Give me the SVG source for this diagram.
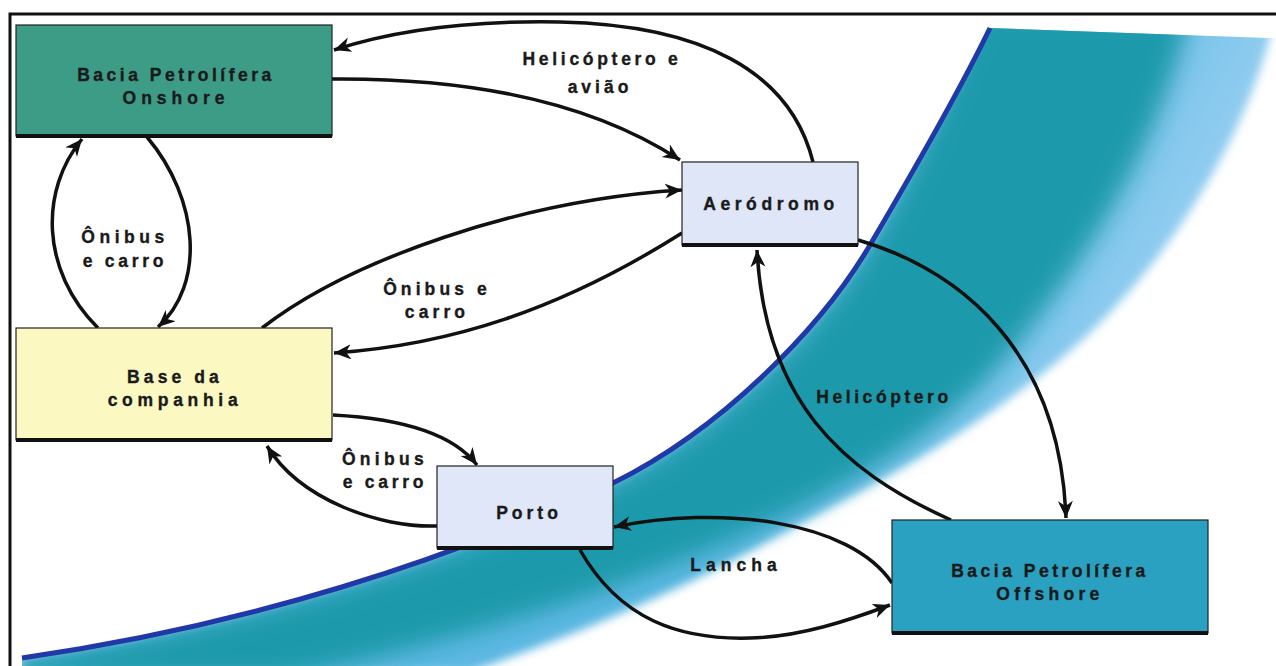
<svg xmlns="http://www.w3.org/2000/svg" width="1276" height="666" viewBox="0 0 1276 666">
<defs>
<clipPath id="seaClip">
<path d="M22,658 C250,625 450,560 613,483 C720,430 820,330 870,245 C920,160 960,90 990,28 L1268,38 L1280,38 L1280,680 L22,680 Z"/>
</clipPath>
<linearGradient id="lightGrad" gradientUnits="userSpaceOnUse" x1="900" y1="250" x2="1200" y2="420">
<stop offset="0" stop-color="#5db8e2"/>
<stop offset="1" stop-color="#a9d6f7"/>
</linearGradient>
<filter id="blurA" x="-10%" y="-10%" width="120%" height="120%">
<feGaussianBlur stdDeviation="5"/>
</filter>
<filter id="blurB" x="-10%" y="-10%" width="120%" height="120%">
<feGaussianBlur stdDeviation="12"/>
</filter>
<marker id="arr" markerUnits="userSpaceOnUse" markerWidth="20" markerHeight="16" refX="17" refY="7.5" orient="auto">
<path d="M0,0 L17,7.5 L0,15 L5,7.5 Z" fill="#111"/>
</marker>
</defs>
<style>
.lbl{font-family:"Liberation Sans",Arial,sans-serif;font-weight:bold;font-size:17.5px;fill:#1a1a1a;stroke:#1a1a1a;stroke-width:0.35;text-anchor:middle}
.box{stroke:#222;stroke-width:1.2}
.shadow{stroke:#111;stroke-width:4}
.con{fill:none;stroke:#111;stroke-width:3.5;marker-end:url(#arr)}
</style>
<rect x="0" y="0" width="1276" height="666" fill="#ffffff"/>
<g id="sea">
<g clip-path="url(#seaClip)">
<path d="M22,658 C250,625 450,560 613,483 C720,430 820,330 870,245 C920,160 960,90 990,20 L1274,20 C1245,150 1150,290 1047,370 C960,440 880,480 770,540 C690,585 590,630 470,672 L22,672 Z" fill="url(#lightGrad)" filter="url(#blurA)"/>
<path d="M10,660 C250,625 450,560 613,483 C720,430 820,330 870,245 C920,160 950,80 980,10 L1190,10 C1160,150 1080,270 1000,365 C930,445 800,515 670,565 C560,610 420,650 280,680 L10,680 Z" fill="#1c9aab" filter="url(#blurB)"/>
</g>
<path d="M22,658 C250,625 450,560 613,483 C720,430 820,330 870,245 C920,160 960,90 990,28" fill="none" stroke="#2038a8" stroke-width="5"/>
</g>
<rect x="10" y="14" width="1280" height="670" fill="none" stroke="#111" stroke-width="3"/>
<g id="connectors">
<path class="con" d="M813,162 C790,70 700,25 560,22 C450,20 380,35 334,50"/>
<path class="con" d="M332,79 C450,78 580,95 680,160"/>
<path class="con" d="M262,328 C350,260 520,200 682,190"/>
<path class="con" d="M682,233 C560,310 450,345 334,353"/>
<path class="con" d="M98,328 C40,270 40,190 82,139"/>
<path class="con" d="M147,137 C200,200 205,285 158,327"/>
<path class="con" d="M333,415 C390,418 450,430 477,465"/>
<path class="con" d="M437,526 C380,528 300,500 267,446"/>
<path class="con" d="M858,240 C960,270 1060,350 1066,518"/>
<path class="con" d="M951,520 C840,470 765,400 757,250"/>
<path class="con" d="M892,583 C850,520 720,505 614,527"/>
<path class="con" d="M580,550 C620,620 680,640 750,638 C800,637 850,620 890,605"/>
<text class="lbl" x="602" y="65" letter-spacing="3.7">Helicóptero e</text>
<text class="lbl" x="600" y="93" letter-spacing="4">avião</text>
<text class="lbl" x="125" y="243" letter-spacing="4.5">Ônibus</text>
<text class="lbl" x="125" y="267" letter-spacing="3.7">e carro</text>
<text class="lbl" x="437" y="295" letter-spacing="4.1">Ônibus e</text>
<text class="lbl" x="437" y="318" letter-spacing="4.1">carro</text>
<text class="lbl" x="385" y="465" letter-spacing="4.3">Ônibus</text>
<text class="lbl" x="385" y="488" letter-spacing="3.7">e carro</text>
<text class="lbl" x="884" y="403" letter-spacing="3.55">Helicóptero</text>
<text class="lbl" x="736" y="571" letter-spacing="5">Lancha</text>
</g>
<g id="onshore">
<rect class="box" x="16" y="25" width="316" height="111" fill="#3d9c86"/>
<line class="shadow" x1="16" y1="136" x2="332" y2="136"/>
<text class="lbl" x="176" y="81" letter-spacing="3.5">Bacia Petrolífera</text>
<text class="lbl" x="176" y="104" letter-spacing="5">Onshore</text>
</g>
<g id="base">
<rect class="box" x="16" y="328" width="316" height="112" fill="#fbf8c2"/>
<line class="shadow" x1="16" y1="440" x2="332" y2="440"/>
<text class="lbl" x="175" y="383" letter-spacing="4.1">Base da</text>
<text class="lbl" x="175" y="406" letter-spacing="4.7">companhia</text>
</g>
<g id="aerodromo">
<rect class="box" x="682" y="162" width="176" height="83" fill="#dfe6f8"/>
<line class="shadow" x1="682" y1="245" x2="858" y2="245"/>
<text class="lbl" x="771" y="210" letter-spacing="4.6">Aeródromo</text>
</g>
<g id="porto">
<rect class="box" x="437" y="466" width="176" height="82" fill="#dfe7f8"/>
<line class="shadow" x1="437" y1="548" x2="613" y2="548"/>
<text class="lbl" x="529" y="519" letter-spacing="4">Porto</text>
</g>
<g id="offshore">
<rect class="box" x="892" y="520" width="316" height="113" fill="#2aa1c0"/>
<line class="shadow" x1="892" y1="633" x2="1208" y2="633"/>
<text class="lbl" x="1050" y="577" letter-spacing="3.5">Bacia Petrolífera</text>
<text class="lbl" x="1050" y="600" letter-spacing="4.3">Offshore</text>
</g>
</svg>
